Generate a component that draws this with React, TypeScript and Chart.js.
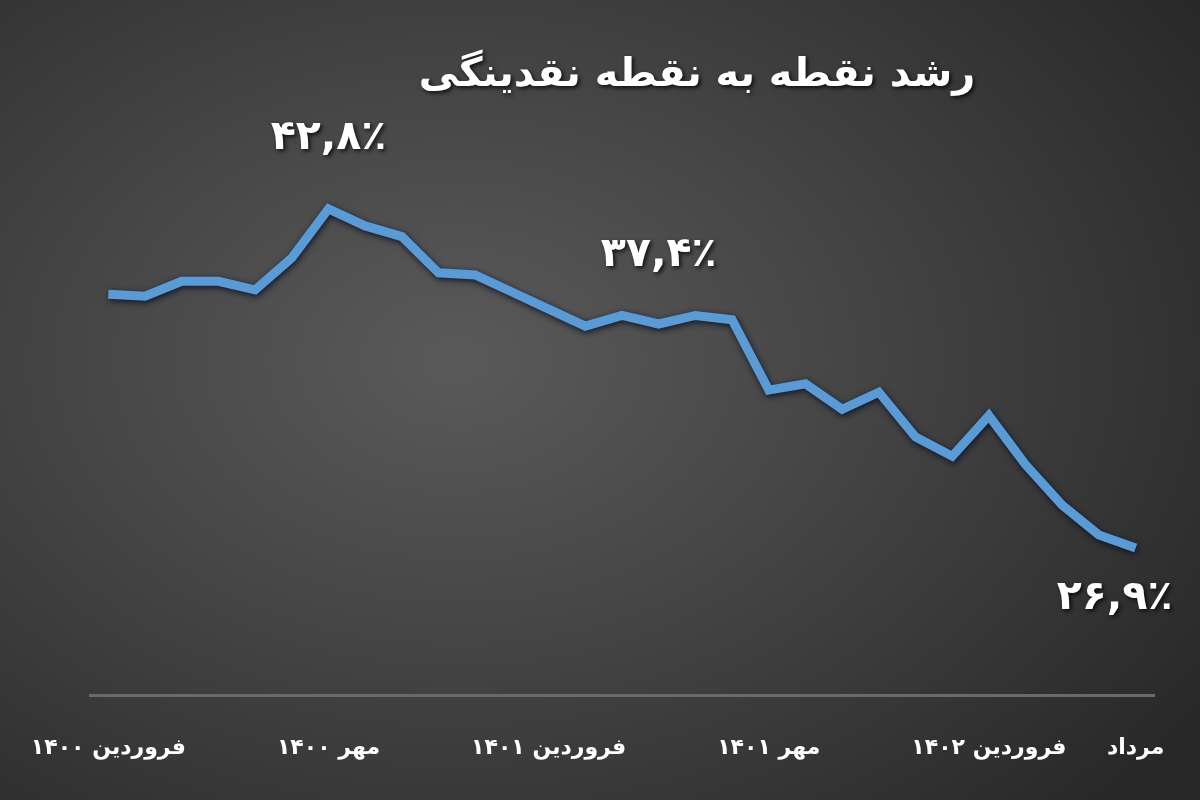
import React, { useEffect, useRef } from "react";
import Chart from "chart.js/auto";

// monthly, Farvardin 1400 .. Mordad 1402
const months = [
  "فروردین ۱۴۰۰", "اردیبهشت ۱۴۰۰", "خرداد ۱۴۰۰", "تیر ۱۴۰۰", "مرداد ۱۴۰۰", "شهریور ۱۴۰۰",
  "مهر ۱۴۰۰", "آبان ۱۴۰۰", "آذر ۱۴۰۰", "دی ۱۴۰۰", "بهمن ۱۴۰۰", "اسفند ۱۴۰۰",
  "فروردین ۱۴۰۱", "اردیبهشت ۱۴۰۱", "خرداد ۱۴۰۱", "تیر ۱۴۰۱", "مرداد ۱۴۰۱", "شهریور ۱۴۰۱",
  "مهر ۱۴۰۱", "آبان ۱۴۰۱", "آذر ۱۴۰۱", "دی ۱۴۰۱", "بهمن ۱۴۰۱", "اسفند ۱۴۰۱",
  "فروردین ۱۴۰۲", "اردیبهشت ۱۴۰۲", "خرداد ۱۴۰۲", "تیر ۱۴۰۲", "مرداد ۱۴۰۲",
];

// point-to-point liquidity growth (%)
const growth = [
  38.8, 38.7, 39.4, 39.4, 39.0, 40.5, 42.8, 42.0, 41.5, 39.8, 39.7, 38.9,
  38.1, 37.3, 37.8, 37.4, 37.8, 37.6, 34.3, 34.6, 33.4, 34.2, 32.1, 31.2,
  33.1, 30.8, 28.9, 27.5, 26.9,
];

const tickIdx = [0, 6, 12, 18, 24, 28];
const tickText = ["فروردین ۱۴۰۰", "مهر ۱۴۰۰", "فروردین ۱۴۰۱", "مهر ۱۴۰۱", "فروردین ۱۴۰۲", "مرداد"];

const calloutIdx = [6, 15, 28];

const title = "رشد نقطه به نقطه نقدینگی";

const FONT = "'DejaVu Sans', sans-serif";

const toFa = (s: string) => s.replace(/\d/g, (d) => "۰۱۲۳۴۵۶۷۸۹"[+d]);
const fmtPct = (v: number) => toFa(v.toFixed(1).replace(".", ",")) + "٪";

const lineShadow = {
  id: "lineShadow",
  beforeDatasetsDraw(chart: any) {
    const ctx = chart.ctx;
    ctx.save();
    ctx.shadowColor = "rgba(5, 15, 40, 0.9)";
    ctx.shadowBlur = 6;
    ctx.shadowOffsetX = 1;
    ctx.shadowOffsetY = 2;
  },
  afterDatasetsDraw(chart: any) {
    chart.ctx.restore();
  },
};

const overlayText = {
  id: "overlayText",
  afterDraw(chart: any) {
    const ctx = chart.ctx;
    const x = chart.scales.x;
    const y = chart.scales.y;
    ctx.save();
    ctx.fillStyle = "#ffffff";
    ctx.shadowColor = "rgba(0,0,0,0.8)";
    ctx.shadowBlur = 4;
    ctx.shadowOffsetX = 2;
    ctx.shadowOffsetY = 2;
    ctx.textAlign = "center";
    ctx.textBaseline = "middle";

    ctx.font = `bold 40px ${FONT}`;
    ctx.fillText(title, 697, 76);

    const offs = [
      [0, -71],
      [0, -69],
      [-21, 50],
    ];
    ctx.font = `bold 41px ${FONT}`;
    calloutIdx.forEach((i, k) => {
      const px = x.getPixelForValue(i) + offs[k][0];
      const py = y.getPixelForValue(growth[i]) + offs[k][1];
      ctx.fillText(fmtPct(growth[i]), px, py);
    });
    ctx.restore();
  },
};

const App: React.FC = () => {
  const chartRef = useRef<HTMLCanvasElement>(null);
  const chartInstance = useRef<Chart>();

  useEffect(() => {
    document.body.style.margin = "0";
    if (chartRef.current) {
      const ctx = chartRef.current.getContext("2d");
      if (ctx) {
        chartInstance.current = new Chart(ctx, {
          type: "line",
          data: {
            labels: months,
            datasets: [
              {
                data: growth,
                borderColor: "#5b9bd5",
                borderWidth: 9,
                pointRadius: 0,
                tension: 0,
                fill: false,
              },
            ],
          },
          options: {
            animation: false,
            responsive: true,
            maintainAspectRatio: false,
            layout: { padding: { left: 90, right: 46, top: 98, bottom: 0 } },
            plugins: {
              legend: { display: false },
              tooltip: { enabled: false },
            },
            scales: {
              x: {
                offset: true,
                grid: { display: false, drawTicks: false },
                border: { display: true, color: "#6a6a6a", width: 3 },
                ticks: {
                  autoSkip: false,
                  maxRotation: 0,
                  padding: 40,
                  color: "#ffffff",
                  font: { family: FONT, size: 22, weight: "bold" },
                  callback: (_v: any, index: number) => {
                    const k = tickIdx.indexOf(index);
                    return k >= 0 ? tickText[k] : "";
                  },
                },
                afterFit: (scale: any) => {
                  scale.paddingLeft = 0;
                  scale.paddingRight = 0;
                  scale.height = 105;
                },
              },
              y: {
                display: false,
                min: 20,
                max: 48,
              },
            },
          },
          plugins: [lineShadow, overlayText],
        });
      }
    }

    return () => {
      if (chartInstance.current) {
        chartInstance.current.destroy();
      }
    };
  }, []);

  return (
    <div
      style={{
        width: 1200,
        height: 800,
        position: "relative",
        background:
          "radial-gradient(ellipse 75% 80% at 38% 45%, #5a5a5a 0%, #474747 40%, #353535 75%, #282828 100%)",
      }}
    >
      <canvas ref={chartRef} />
    </div>
  );
};

export default App;
